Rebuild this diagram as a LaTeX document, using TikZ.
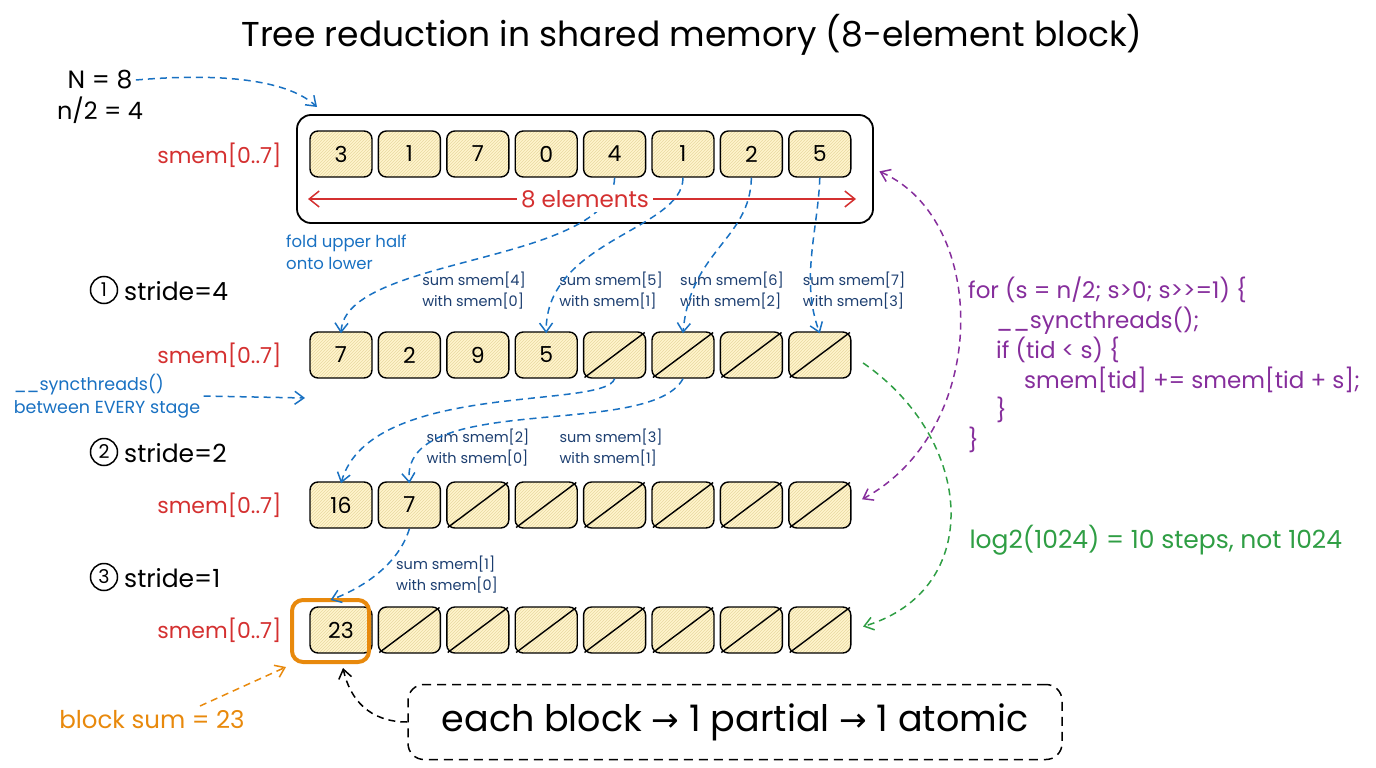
\documentclass[tikz,border=0pt]{standalone}
\usepackage{fontspec}
\setmainfont{Poppins}[Ligatures={NoCommon}]
\newfontfamily\dejavu{DejaVu Sans}
\usetikzlibrary{arrows.meta,patterns,calc}
\definecolor{redc}{RGB}{212,48,48}
\definecolor{bluec}{RGB}{25,113,194}
\definecolor{navyc}{RGB}{28,62,112}
\definecolor{purplec}{RGB}{134,46,156}
\definecolor{greenc}{RGB}{47,158,68}
\definecolor{orangec}{RGB}{232,137,12}
\definecolor{cellfill}{RGB}{255,245,205}
\definecolor{hatchc}{RGB}{232,216,160}
\newcommand\fsz[2]{\fontsize{#1pt}{#2pt}\selectfont}
\tikzset{
  cellbox/.style={draw=black, line width=1.4pt, rounded corners=8pt, minimum width=62pt, minimum height=46pt, inner sep=0pt, preaction={fill=cellfill}, pattern=north east lines, pattern color=hatchc, font=\fsz{22}{26}},
  diagline/.style={line width=1.4pt, shorten <=2pt, shorten >=2pt},
  conn/.style={line width=1.5pt, dash pattern=on 7pt off 5pt, -{Straight Barb[length=9pt,width=13pt]}},
  smemlab/.style={anchor=east, text=redc, font=\fsz{22}{26}},
  sumlab/.style={align=left, text=navyc, font=\fsz{14.5}{21}, inner sep=1pt},
  stepnum/.style={draw, circle, line width=1.5pt, minimum size=27pt, inner sep=0pt, font=\fsz{19}{24}},
  steptext/.style={anchor=west, inner sep=0pt, font=\fsz{25}{28}},
}
\begin{document}
\begin{tikzpicture}[x=1pt,y=-1pt]
\useasboundingbox (0,0) rectangle (1376,768);
% title
\node (title) at (692,35) {\fsz{34.5}{40}Tree reduction in shared memory (8-element block)};
% N labels
\node (Nlab) at (100,80) {\fsz{25}{28}N = 8};
\node (nlab) at (100,110) {\fsz{24}{28}n/2 = 4};
% outer box
\node[draw, line width=1.8pt, rounded corners=14pt, minimum width=576pt, minimum height=108pt] (outer) at (585,169) {};
% row labels
\node[smemlab] (s1) at (285,155) {smem[0..7]};
\node[smemlab] (s2) at (285,355) {smem[0..7]};
\node[smemlab] (s3) at (285,505) {smem[0..7]};
\node[smemlab] (s4) at (285,630) {smem[0..7]};
% row 1
\foreach \v [count=\i from 0] in {3,1,7,0,4,1,2,5}
  \node[cellbox] (r1c\i) at ({341+68.4*\i},154) {\v};
% row 2
\foreach \v [count=\i from 0] in {7,2,9,5}
  \node[cellbox] (r2c\i) at ({341+68.4*\i},355) {\v};
\foreach \i in {4,...,7}{
  \node[cellbox] (r2c\i) at ({341+68.4*\i},355) {};
  \draw[diagline] (r2c\i.south west) -- (r2c\i.north east);}
% row 3
\foreach \v [count=\i from 0] in {16,7}
  \node[cellbox] (r3c\i) at ({341+68.4*\i},505) {\v};
\foreach \i in {2,...,7}{
  \node[cellbox] (r3c\i) at ({341+68.4*\i},505) {};
  \draw[diagline] (r3c\i.south west) -- (r3c\i.north east);}
% row 4
\node[cellbox] (r4c0) at (341,630) {23};
\foreach \i in {1,...,7}{
  \node[cellbox] (r4c\i) at ({341+68.4*\i},630) {};
  \draw[diagline] (r4c\i.south west) -- (r4c\i.north east);}
\node[draw=orangec, line width=4pt, rounded corners=11pt, minimum width=77pt, minimum height=62pt] (hl) at (330.5,631) {};
% step labels
\node[stepnum] (c1) at (104,290) {1};
\node[steptext] (t1) at (124,291) {stride=4};
\node[stepnum] (c2) at (104,452) {2};
\node[steptext] (t2) at (124,453) {stride=2};
\node[stepnum] (c3) at (104,577) {3};
\node[steptext] (t3) at (124,578) {stride=1};
% annotations
\node[anchor=north west, align=left, text=bluec, font=\fsz{16.5}{22}, inner sep=0pt] (fold) at (286,235) {fold upper half\\onto lower};
\node[sumlab] (l4) at (474,291) {sum smem[4]\\with smem[0]};
\node[sumlab] (l5) at (611,291) {sum smem[5]\\with smem[1]};
\node[sumlab] (l6) at (732,291) {sum smem[6]\\with smem[2]};
\node[sumlab] (l7) at (854,291) {sum smem[7]\\with smem[3]};
\node[sumlab] (l2) at (478,448) {sum smem[2]\\with smem[0]};
\node[sumlab] (l3) at (611,448) {sum smem[3]\\with smem[1]};
\node[sumlab] (l1) at (447,575) {sum smem[1]\\with smem[0]};
\node[align=left, text=bluec, font=\fsz{17.5}{23}] (sync) at (107,396) {\_\_syncthreads()\\between EVERY stage};
\coordinate (syncend) at (305,398);
% code
\node[anchor=north west, align=left, text=purplec, font=\fsz{23}{30}, inner sep=0pt] (code) at (968,277) {for (s = n/2; s>0; s>{}>{}=1) \{\\
\hspace*{28pt}\_\_syncthreads();\\
\hspace*{28pt}if (tid < s) \{\\
\hspace*{56pt}smem[tid] += smem[tid + s];\\
\hspace*{28pt}\}\\
\}};
\node[anchor=west, text=greenc, font=\fsz{25}{28}] (log) at (966,540) {log2(1024) = 10 steps, not 1024};
% bottom
\node[draw, dash pattern=on 9pt off 6pt, line width=1.5pt, rounded corners=16pt, minimum width=654pt, minimum height=75pt, font=\fsz{36.5}{40}] (each) at (735,722) {each block {\dejavu\fsz{33}{40}→} 1 partial {\dejavu\fsz{33}{40}→} 1 atomic};
\node[text=orangec, font=\fsz{24.5}{28}] (bsum) at (152,720) {block sum = 23};
\coordinate (bsumstart) at (200,706);
\coordinate (eachtip) at (343,668);
\coordinate (Ntip) at (317,107);
% 8 elements arrow
\coordinate (el) at (308,199);
\coordinate (er) at (856,199);
% connectors
\draw[conn, bluec] (Nlab.east) .. controls (230,72) and (290,82) .. (Ntip);
\draw[conn, bluec] (r1c4.south) .. controls (612,265) and (345,255) .. ([yshift=-2pt]r2c0.north);
\draw[conn, bluec] (r1c5.south) .. controls (683,230) and (545,240) .. ([yshift=-2pt]r2c3.north);
\draw[conn, bluec] (r1c6.south) .. controls (750,240) and (690,250) .. ([yshift=-2pt]r2c5.north);
\draw[conn, bluec] (r1c7.south) .. controls (818,230) and (800,280) .. ([yshift=-2pt]r2c7.north);
\draw[redc, line width=1.5pt, {Straight Barb[length=10pt,width=16pt]}-{Straight Barb[length=10pt,width=16pt]}] (el) -- (er);
\node[fill=white, text=redc, font=\fsz{23}{26}, inner sep=4pt] (eight) at (585,199) {8 elements};
\draw[conn, bluec] (sync.east) -- (syncend);
\draw[conn, bluec] (r2c4.south) .. controls (605,410) and (370,380) .. ([yshift=-2pt]r3c0.north);
\draw[conn, bluec] (r2c5.south) .. controls (650,440) and (400,390) .. ([yshift=-2pt]r3c1.north);
\draw[conn, bluec] (r3c1.south) .. controls (400,560) and (370,585) .. ([yshift=-2pt]hl.north);
\draw[conn, purplec, {Straight Barb[length=9pt,width=13pt]}-{Straight Barb[length=9pt,width=13pt]}, shorten <=6pt, shorten >=12pt] (outer.east) .. controls (990,220) and (990,430) .. (r3c7.east);
\draw[conn, greenc, shorten <=14pt, shorten >=12pt] (r2c7.east) .. controls (975,440) and (985,590) .. (r4c7.east);
\draw[conn, black] (each.west) .. controls (370,722) and (350,700) .. (eachtip);
\draw[conn, orangec] (bsumstart) -- ([xshift=-4pt,yshift=-3pt]hl.south west);
\end{tikzpicture}
\end{document}
